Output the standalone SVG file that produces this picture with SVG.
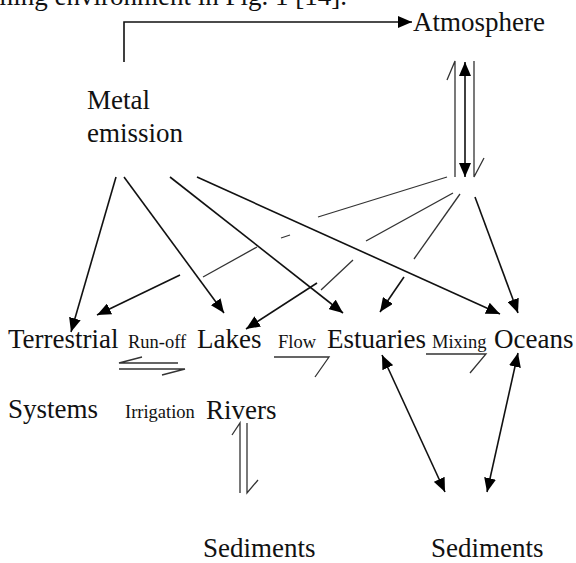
<svg xmlns="http://www.w3.org/2000/svg" width="576" height="563" viewBox="0 0 576 563">
<style>
text{font-family:"Liberation Serif","Times New Roman",serif;fill:#111}
.big{font-size:27px}
.small{font-size:18.5px}
.a{stroke:#111;stroke-width:1.6;fill:none}
.t{stroke:#333;stroke-width:1.3;fill:none}
</style>
<defs>
<marker id="ah" markerUnits="userSpaceOnUse" markerWidth="14" markerHeight="12" viewBox="0 0 14 12" refX="14" refY="6" orient="auto-start-reverse">
<path d="M0,0 L14,6 L0,12 z" fill="#000"/>
</marker>
</defs>
<rect width="576" height="563" fill="#fff"/>
<text class="big" x="347" y="5" text-anchor="end">ming environment in Fig. 1 [14].</text>
<g id="atmosphere"><text class="big" x="413" y="31">Atmosphere</text></g>
<g id="metal-emission"><text class="big" x="87" y="109">Metal</text><text class="big" x="87" y="142">emission</text></g>
<g id="terrestrial-systems"><text class="big" x="8" y="348">Terrestrial</text><text class="big" x="8" y="418">Systems</text></g>
<g id="lakes"><text class="big" x="197" y="348">Lakes</text></g>
<g id="estuaries"><text class="big" x="327" y="348">Estuaries</text></g>
<g id="oceans"><text class="big" x="494" y="348">Oceans</text></g>
<g id="rivers"><text class="big" x="206" y="419">Rivers</text></g>
<g id="sediments-rivers"><text class="big" x="203" y="557">Sediments</text></g>
<g id="sediments-oceans"><text class="big" x="431" y="557">Sediments</text></g>
<g id="connectors">
<path class="a" d="M124,62 V22 H412" marker-end="url(#ah)"/>
<line class="a" x1="116" y1="177" x2="71" y2="332" marker-end="url(#ah)"/>
<line class="a" x1="124" y1="177" x2="224" y2="313" marker-end="url(#ah)"/>
<line class="a" x1="170" y1="177" x2="343" y2="313" marker-end="url(#ah)"/>
<line class="a" x1="197" y1="177" x2="500" y2="314" marker-end="url(#ah)"/>
<line class="t" x1="447" y1="177" x2="318" y2="217"/>
<line class="t" x1="281" y1="238" x2="290" y2="235"/>
<line class="t" x1="257" y1="247" x2="203" y2="277"/>
<line class="a" x1="180" y1="275" x2="97" y2="315" marker-end="url(#ah)"/>
<line class="t" x1="453" y1="193" x2="366" y2="241"/>
<line class="t" x1="353" y1="260" x2="321" y2="290"/>
<line class="a" x1="317" y1="283" x2="246" y2="329" marker-end="url(#ah)"/>
<line class="t" x1="460" y1="194" x2="414" y2="259"/>
<line class="a" x1="404" y1="277" x2="380" y2="312" marker-end="url(#ah)"/>
<line class="a" x1="475" y1="197" x2="518" y2="313" marker-end="url(#ah)"/>
<line class="a" x1="465" y1="62" x2="465" y2="177" marker-start="url(#ah)" marker-end="url(#ah)"/>
<path class="t" d="M447,80 L455,61 V177"/>
<path class="t" d="M474,61 V177 L484,158"/>
<path class="t" d="M142,357 L119,363 H178"/>
<path class="t" d="M119,369 H185 L162,375"/>
<path class="t" d="M274,357 H329 L315,377"/>
<path class="t" d="M426,354 H486 L470,373"/>
<path class="t" d="M232,435 L240,423 V493"/>
<path class="t" d="M247,423 V493 L258,480"/>
<line class="a" x1="382" y1="355" x2="445" y2="492" marker-start="url(#ah)" marker-end="url(#ah)"/>
<line class="a" x1="518" y1="353" x2="487" y2="492" marker-start="url(#ah)" marker-end="url(#ah)"/>
<text class="small" x="128" y="348">Run-off</text>
<text class="small" x="278" y="348">Flow</text>
<text class="small" x="432" y="348">Mixing</text>
<text class="small" x="125" y="418">Irrigation</text>
</g>
</svg>
